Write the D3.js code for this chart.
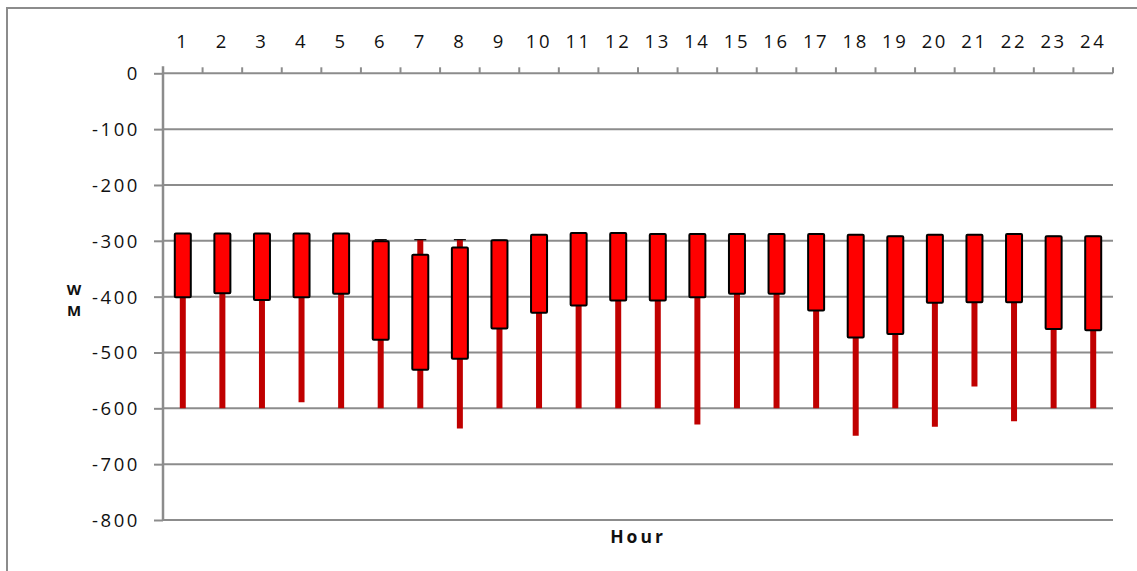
<!DOCTYPE html>
<html><head><meta charset="utf-8">
<script src="https://cdn.jsdelivr.net/npm/d3@7"></script>
<style>body{margin:0;background:#fff;} svg{display:block;}</style>
</head><body>
<svg id="chart" width="1137" height="571"></svg>
<script>
const hours = ["1","2","3","4","5","6","7","8","9","10","11","12","13","14","15","16","17","18","19","20","21","22","23","24"];
const openV  = [-287,-287,-287,-287,-287,-301,-325,-312,-299,-289,-286,-286,-288,-288,-288,-288,-288,-289,-292,-289,-289,-288,-292,-292];
const closeV = [-401,-394,-406,-401,-395,-477,-531,-511,-457,-429,-416,-407,-407,-401,-395,-395,-425,-473,-467,-411,-410,-410,-458,-460];
const highV  = [-287,-287,-287,-287,-287,-298,-298,-298,-299,-289,-286,-286,-288,-288,-288,-288,-288,-289,-292,-289,-289,-288,-292,-292];
const lowV   = [-600,-600,-600,-589,-600,-600,-600,-636,-600,-600,-600,-600,-600,-629,-600,-600,-600,-649,-600,-633,-561,-623,-600,-600];
const yTicks = [0,-100,-200,-300,-400,-500,-600,-700,-800];
const yTitle = ["W","M"];
const xTitle = "Hour";

const svg = d3.select("#chart");
const L = 163, R = 1113, T = 73.3, B = 520;
const x = d3.scaleBand().domain(hours).range([L, R]);
const y = d3.scaleLinear().domain([-800, 0]).range([B, T]);
const grey = "#8c8c8c";
const font = "'Open Sans', sans-serif";

// outer frame (only left/top visible)
svg.append("path").attr("d", `M7,571 V8 H1137`).attr("fill","none").attr("stroke",grey).attr("stroke-width",2);

// gridlines
svg.append("g").selectAll("line").data(yTicks).join("line")
  .attr("x1", L).attr("x2", R).attr("y1", d=>y(d)).attr("y2", d=>y(d))
  .attr("stroke", grey).attr("stroke-width", 2);

// y axis
const yAxis = d3.axisLeft(y).tickValues(yTicks).tickSize(9).tickFormat(d => String(d));
const gy = svg.append("g").attr("transform", `translate(${L},0)`).call(yAxis);
gy.select(".domain").attr("stroke", grey).attr("stroke-width", 2.5).attr("d", `M0,${T-7}V${B}`);
gy.selectAll(".tick line").attr("stroke", grey).attr("stroke-width", 2);
gy.selectAll(".tick text").attr("x", -23).attr("font-family", font).attr("font-size", 18.5)
  .attr("fill", "#111").attr("letter-spacing", 2.6).attr("dy","0.35em");

// x axis on top (at 0), ticks at category boundaries
const bounds = hours.map(h => x(h)).concat([R]);
svg.append("g").selectAll("line").data(bounds).join("line")
  .attr("x1", d=>d).attr("x2", d=>d).attr("y1", y(0)).attr("y2", y(0)-6)
  .attr("stroke", grey).attr("stroke-width", 2);
svg.append("g").selectAll("text").data(hours).join("text")
  .attr("x", d => x(d) + x.bandwidth()/2).attr("y", 48)
  .attr("text-anchor","middle").attr("font-family", font).attr("font-size", 18.5)
  .attr("fill","#111").attr("letter-spacing", 2.6).text(d=>d);

// candles
const data = hours.map((h,i)=>({h, o:openV[i], c:closeV[i], hi:highV[i], lo:lowV[i]}));
const g = svg.append("g");
g.selectAll(".wick").data(data).join("line").attr("class","wick")
  .attr("x1", d=>x(d.h)+x.bandwidth()/2).attr("x2", d=>x(d.h)+x.bandwidth()/2)
  .attr("y1", d=>y(d.hi)).attr("y2", d=>y(d.lo))
  .attr("stroke", "#c00000").attr("stroke-width", 6);
g.selectAll(".hicap").data(data).join("line").attr("class","hicap")
  .attr("x1", d=>x(d.h)+x.bandwidth()/2-6).attr("x2", d=>x(d.h)+x.bandwidth()/2+6)
  .attr("y1", d=>y(d.hi)).attr("y2", d=>y(d.hi))
  .attr("stroke", "#000").attr("stroke-width", 1.2);
const bw = 16;
g.selectAll(".box").data(data).join("rect").attr("class","box")
  .attr("x", d=>x(d.h)+x.bandwidth()/2-bw/2).attr("width", bw)
  .attr("y", d=>y(Math.max(d.o,d.c))).attr("height", d=>Math.abs(y(d.o)-y(d.c)))
  .attr("rx", 1).attr("fill","#ff0000").attr("stroke","#000").attr("stroke-width",2);

// axis titles
svg.append("text").attr("x", 638).attr("y", 543).attr("text-anchor","middle")
  .attr("font-family", font).attr("font-weight","bold").attr("font-size", 17.5)
  .attr("letter-spacing", 3).attr("fill","#111").text(xTitle);
svg.append("g").selectAll("text").data(yTitle).join("text")
  .attr("x", 74).attr("y", (d,i)=>295 + i*21).attr("text-anchor","middle")
  .attr("font-family", font).attr("font-weight","bold").attr("font-size", 15)
  .attr("fill","#111").text(d=>d);
</script>
</body></html>
